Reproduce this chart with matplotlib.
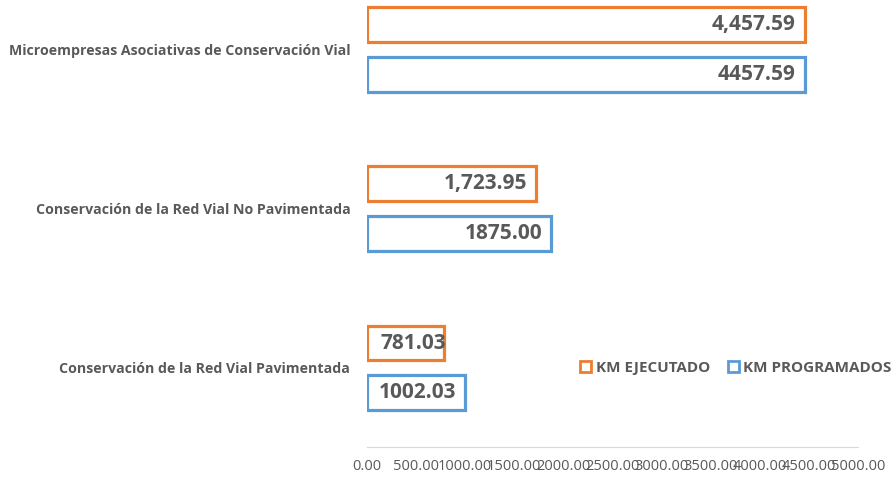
import matplotlib.pyplot as plt
import numpy as np
from matplotlib.patches import Rectangle

categorias = ['Conservación de la Red Vial Pavimentada',
              'Conservación de la Red Vial No Pavimentada',
              'Microempresas Asociativas de Conservación Vial']
km_ejecutado = [781.03, 1723.95, 4457.59]
km_programados = [1002.03, 1875.00, 4457.59]
etiquetas_ejecutado = ['781.03', '1,723.95', '4,457.59']
etiquetas_programados = ['1002.03', '1875.00', '4457.59']
ticks_x = np.arange(0, 5001, 500)

naranja = '#ED7D31'
azul = '#5B9BD5'
gris = '#595959'

plt.rcParams['font.family'] = ['Open Sans', 'DejaVu Sans']

fig = plt.figure(figsize=(8.92, 4.78), dpi=100)
ax = fig.add_axes([367 / 892, 1 - 447 / 478, (858 - 367) / 892, 447 / 478])

y = np.arange(len(categorias))
alto = 0.22
off = 0.157

ax.barh(y + off, km_ejecutado, height=alto, color='white', edgecolor=naranja,
        linewidth=2.3, label='KM EJECUTADO')
ax.barh(y - off, km_programados, height=alto, color='white', edgecolor=azul,
        linewidth=2.3, label='KM PROGRAMADOS')


def etiqueta(v, yy, t):
    # barras cortas: el texto no cabe y se sale un poco del borde
    dx = 1.5 if v < 900 else -6.5
    ax.annotate(t, (v, yy), xytext=(dx, 0), textcoords='offset points',
                ha='right', va='center', fontsize=15, fontweight='bold', color=gris)


for yi, v, t in zip(y, km_ejecutado, etiquetas_ejecutado):
    etiqueta(v, yi + off, t)
for yi, v, t in zip(y, km_programados, etiquetas_programados):
    etiqueta(v, yi - off, t)

ax.set_xlim(0, 5000)
ax.set_ylim(-0.497, 2.314)
ax.set_xticks(ticks_x)
ax.set_xticklabels([f'{t:.2f}' for t in ticks_x], fontsize=10.5, color=gris)
ax.set_yticks(y)
ax.set_yticklabels(categorias, fontsize=10.2, fontweight='bold', color=gris)
ax.tick_params(axis='both', length=0)
ax.tick_params(axis='x', pad=9)
ax.tick_params(axis='y', pad=12)

for s in ['top', 'right', 'left']:
    ax.spines[s].set_visible(False)
ax.spines['bottom'].set_color('#D9D9D9')

h_e = Rectangle((0, 0), 1, 1, facecolor='white', edgecolor=naranja, linewidth=2)
h_p = Rectangle((0, 0), 1, 1, facecolor='white', edgecolor=azul, linewidth=2)
leg = fig.legend([h_e, h_p], ['KM EJECUTADO', 'KM PROGRAMADOS'], loc='center',
                 bbox_to_anchor=(736 / 892, 1 - 368 / 478), ncol=2, frameon=False,
                 fontsize=11, handlelength=0.7, handleheight=0.7, handletextpad=0.3,
                 columnspacing=1.2)
for t in leg.get_texts():
    t.set_color(gris)
    t.set_fontweight('bold')

fig.savefig('out.png', dpi=100)
